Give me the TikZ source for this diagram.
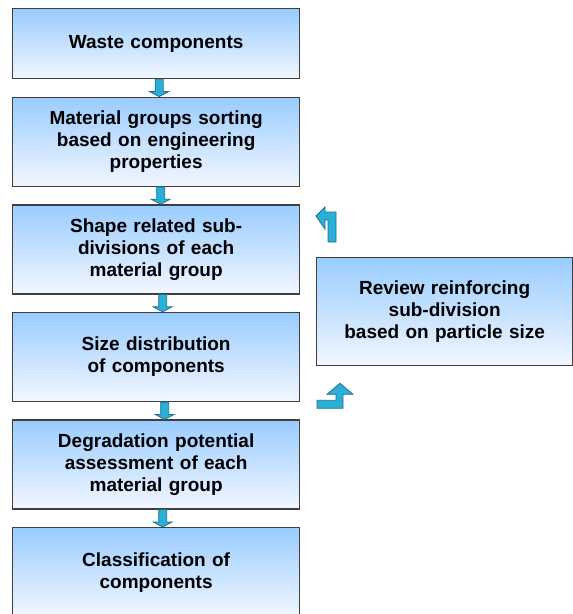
\documentclass[tikz,border=0pt]{standalone}
\usepackage{fontspec}
\setmainfont{Liberation Sans}
\usetikzlibrary{positioning, calc}

\definecolor{boxtop}{HTML}{99CCFF}
\definecolor{boxbottom}{HTML}{F2F7FF}
\definecolor{boxline}{HTML}{3F3F3F}
\definecolor{arrowfill}{HTML}{2AAFD8}
\definecolor{arrowline}{HTML}{23708C}

\begin{document}
\begin{tikzpicture}[x=1pt, y=1pt, node distance=17.3pt,
    stage/.style={draw=boxline, line width=1.3pt, top color=boxtop, bottom color=boxbottom,
      minimum width=287pt, minimum height=89pt, text width=270pt, align=center,
      inner sep=0pt, font=\fontsize{19}{22}\selectfont\bfseries},
    flow/.style={fill=arrowfill, draw=arrowline, line width=0.8pt, line join=miter}]
   \useasboundingbox (0,0) rectangle (573,-614);

   % main column
   \node[stage, minimum height=70pt, anchor=north west] (waste) at (12,-8) {Waste components};
   \node[stage, below=of waste] (groups) {Material groups sorting\\based on engineering\\properties};
   \node[stage, below=of groups] (shape) {Shape related sub-\\divisions of each\\material group};
   \node[stage, below=of shape] (size) {Size distribution\\of components};
   \node[stage, below=of size] (degrade) {Degradation potential\\assessment of each\\material group};
   \node[stage, below=of degrade] (classify) {Classification of\\components};

   % side box
   \node[stage, minimum width=256pt, minimum height=108pt, text width=240pt, anchor=north west]
      (review) at (316,-257) {Review reinforcing\\sub-division\\based on particle size};

   % block arrows down the column
   \foreach \a/\b/\s in {waste/groups/3, groups/shape/4.5, shape/size/6.5, size/degrade/8.5, degrade/classify/6.5}
     \draw[flow] let \p1=([xshift=\s pt]\a.south), \p2=([xshift=\s pt]\b.north) in
       (\x1-4pt,\y1) -- (\x1-4pt,\y2+5pt) -- (\x1-9.5pt,\y2+5pt) -- (\x1,\y2)
       -- (\x1+9.5pt,\y2+5pt) -- (\x1+4pt,\y2+5pt) -- (\x1+4pt,\y1) -- cycle;

   % turn arrows beside the review box
   \draw[flow] ($(review.north west)+(0,41)$) -- ++(9,9) -- ++(0,-5) -- ++(11,0) -- ++(0,-30)
       -- ++(-8,0) -- ++(0,22) -- ++(-3,0) -- ++(0,-9) -- cycle;
   \draw[flow] ($(review.south west)+(1,-42)$) -- ++(0,8) -- ++(19,0) -- ++(0,6) -- ++(-9,0)
       -- ++(13,11) -- ++(13,-11) -- ++(-10,0) -- ++(0,-14) -- cycle;
\end{tikzpicture}
\end{document}
